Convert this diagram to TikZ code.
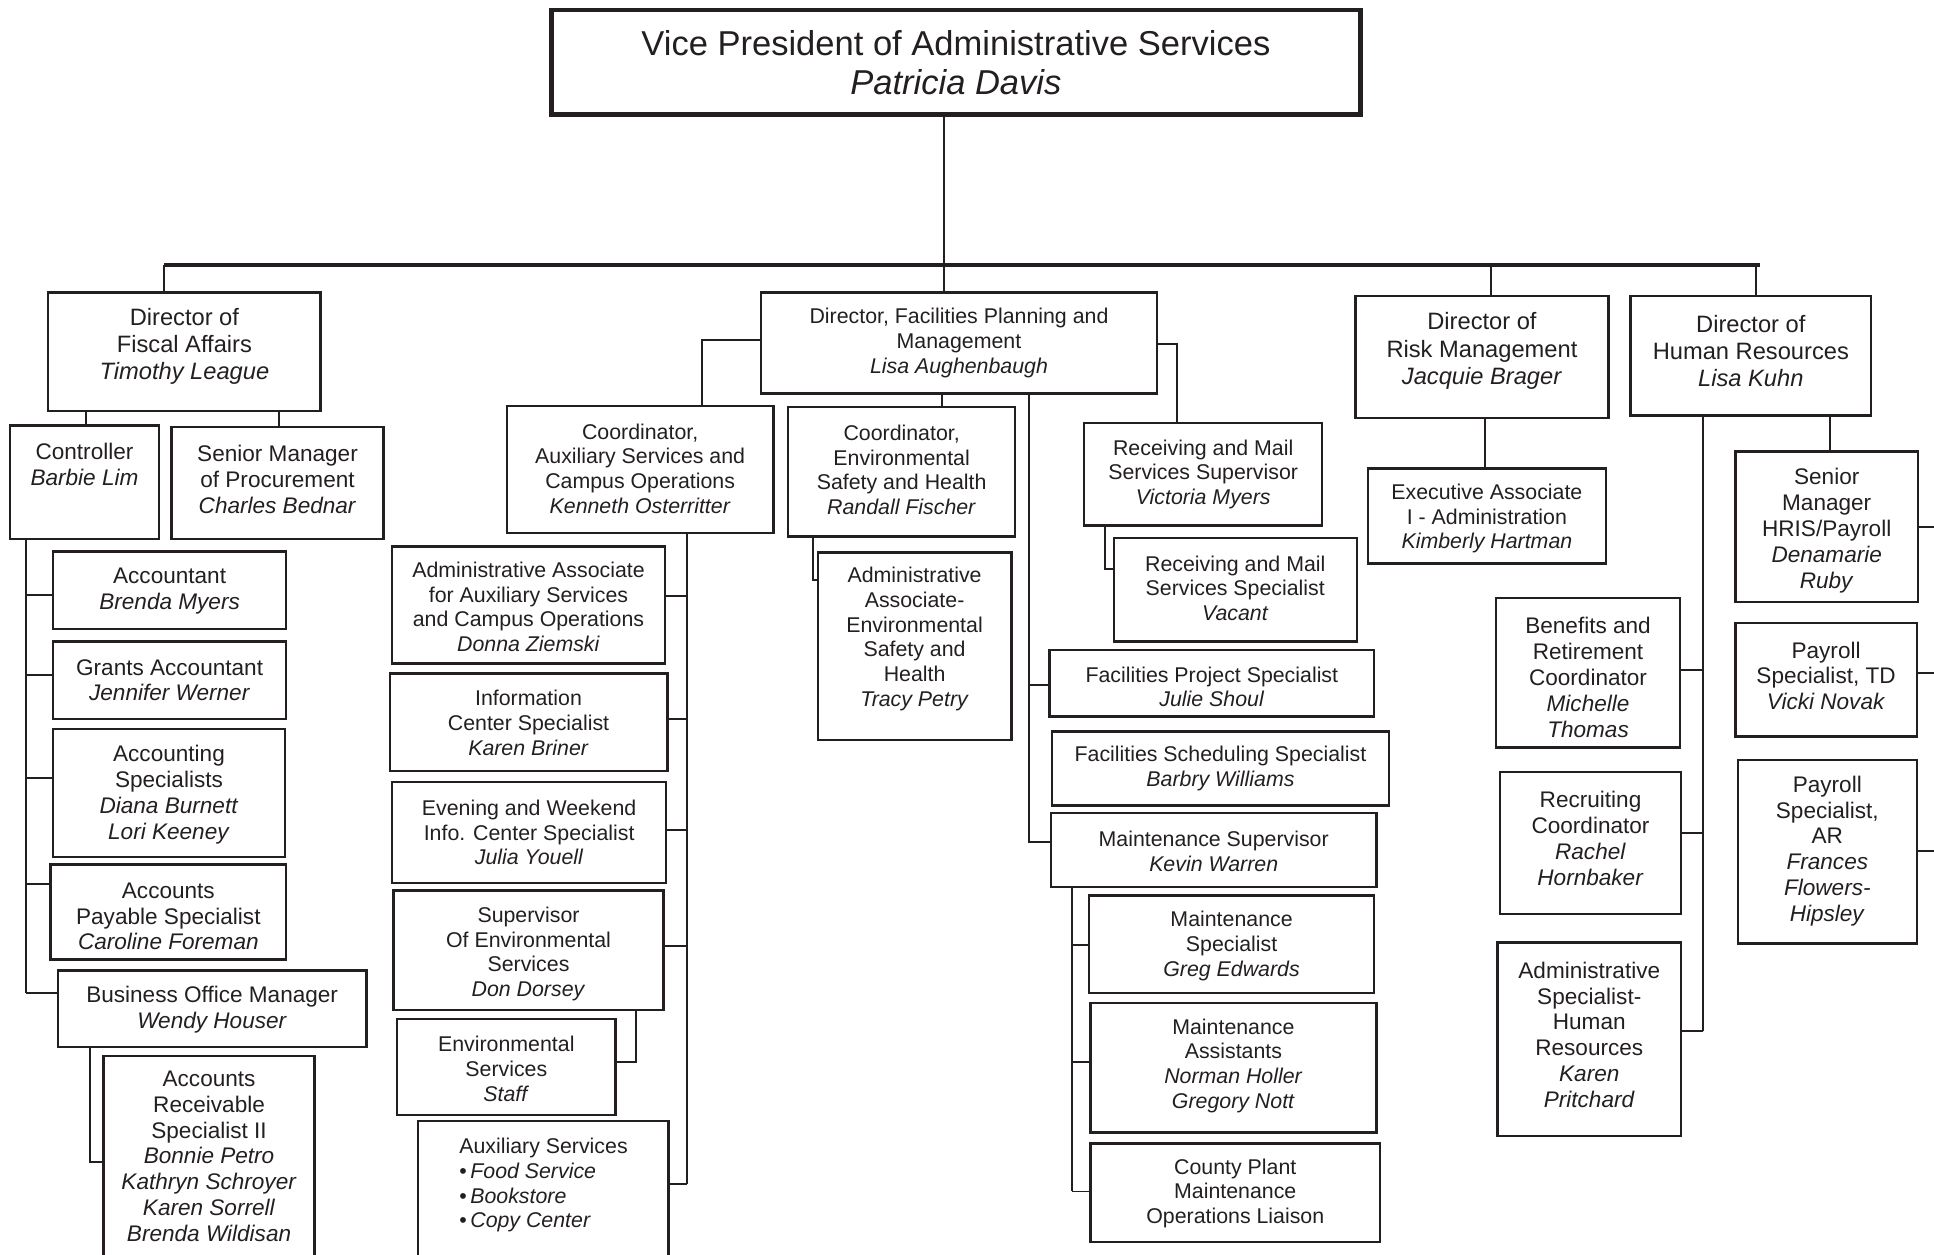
\documentclass[tikz,border=0pt]{standalone}
\usepackage{fontspec}
\setmainfont{Liberation Sans}
\usepackage{xcolor}
\usetikzlibrary {fit, calc}
\definecolor{ink}{RGB}{35,31,32}
\tikzset{
    box/.style={draw=ink, line width=1pt, inner sep=0pt},
    topbox/.style={draw=ink, line width=1.8pt, inner sep=0pt},
    link/.style={draw=ink, line width=0.8pt},
    bar/.style={draw=ink, line width=1.5pt},
    fs/.style={text=ink, align=center, inner sep=0pt, yshift=-1pt, font=\fontsize{8.65}{10}\selectfont},
    fm/.style={text=ink, align=center, inner sep=0pt, yshift=-1pt, font=\fontsize{9.15}{10.5}\selectfont},
    fl/.style={text=ink, align=center, inner sep=0pt, yshift=-1pt, font=\fontsize{9.6}{11}\selectfont},
    ftop/.style={text=ink, align=center, inner sep=0pt, font=\fontsize{14}{16}\selectfont}
}

\begin{document}
\begin{tikzpicture}[x=0.5pt, y=-0.5pt]
    \useasboundingbox (0,0) rectangle (1568,1017);
    % vice president
    \node[topbox, fit={(447,8) (1103,93)}] (vp) {};
    \node[ftop] (vp-t) at (775,51) {Vice President of Administrative Services\\\textit{Patricia Davis}};
    % fiscal affairs
    \node[box, fit={(39,237) (260,333)}] (fisc) {};
    \node[fl] (fisc-t) at (149.5,279) {Director of\\Fiscal Affairs\\\textit{Timothy League}};
    \node[box, fit={(8,345) (129,437)}] (ctrl) {};
    \node[fm] (ctrl-t) at (68.5,374.5) {Controller\\\textit{Barbie Lim}};
    \node[box, fit={(139,346) (311,437)}] (proc) {};
    \node[fm] (proc-t) at (225,386.5) {Senior Manager\\of Procurement\\\textit{Charles Bednar}};
    \node[box, fit={(43,447) (232,510)}] (acct) {};
    \node[fm] (acct-t) at (137.5,477) {Accountant\\\textit{Brenda Myers}};
    \node[box, fit={(43,520) (232,583)}] (grant) {};
    \node[fm] (grant-t) at (137.5,549.5) {Grants Accountant\\\textit{Jennifer Werner}};
    \node[box, fit={(43,591) (231,695)}] (acsp) {};
    \node[fm] (acsp-t) at (137,642.5) {Accounting\\Specialists\\\textit{Diana Burnett}\\\textit{Lori Keeney}};
    \node[box, fit={(41,701) (232,778)}] (pay) {};
    \node[fm] (pay-t) at (136.5,741) {Accounts\\Payable Specialist\\\textit{Caroline Foreman}};
    \node[box, fit={(47,787) (297,849)}] (bom) {};
    \node[fm] (bom-t) at (172,816.5) {Business Office Manager\\\textit{Wendy Houser}};
    \node[box, fit={(84,856) (255,1024)}] (recv) {};
    \node[fm] (recv-t) at (169.5,935.5) {Accounts\\Receivable\\Specialist II\\\textit{Bonnie Petro}\\\textit{Kathryn Schroyer}\\\textit{Karen Sorrell}\\\textit{Brenda Wildisan}};
    % facilities
    \node[box, fit={(617,237) (938,319)}] (fac) {};
    \node[fs] (fac-t) at (777.5,276) {Director, Facilities Planning and\\Management\\\textit{Lisa Aughenbaugh}};
    \node[box, fit={(411,329) (627,432)}] (caux) {};
    \node[fs] (caux-t) at (519,378) {Coordinator,\\Auxiliary Services and\\Campus Operations\\\textit{Kenneth Osterritter}};
    \node[box, fit={(318,443) (539,538)}] (aaux) {};
    \node[fs] (aaux-t) at (428.5,490) {Administrative Associate\\for Auxiliary Services\\and Campus Operations\\\textit{Donna Ziemski}};
    \node[box, fit={(316,546) (541,625)}] (info) {};
    \node[fs] (info-t) at (428.5,584) {Information\\Center Specialist\\\textit{Karen Briner}};
    \node[box, fit={(318,634) (540,716)}] (eve) {};
    \node[fs] (eve-t) at (429,673) {Evening and Weekend\\Info. Center Specialist\\\textit{Julia Youell}};
    \node[box, fit={(319,722) (538,819)}] (senv) {};
    \node[fs] (senv-t) at (428.5,771.5) {Supervisor\\Of Environmental\\Services\\\textit{Don Dorsey}};
    \node[box, fit={(322,826) (499,904)}] (estaff) {};
    \node[fs] (estaff-t) at (410.5,864.5) {Environmental\\Services\\\textit{Staff}};
    \node[box, fit={(339,909) (542,1024)}] (asvc) {};
    \node[fs, align=left, anchor=west] (asvc-t) at (372,959) {Auxiliary Services\\{\textbullet}\,\textit{Food Service}\\{\textbullet}\,\textit{Bookstore}\\{\textbullet}\,\textit{Copy Center}};
    \node[box, fit={(639,330) (823,435)}] (cenv) {};
    \node[fs] (cenv-t) at (731,379) {Coordinator,\\Environmental\\Safety and Health\\\textit{Randall Fischer}};
    \node[box, fit={(663,448) (820,600)}] (aenv) {};
    \node[fs] (aenv-t) at (741.5,516) {Administrative\\Associate-\\Environmental\\Safety and\\Health\\\textit{Tracy Petry}};
    \node[box, fit={(879,343) (1072,426)}] (rsup) {};
    \node[fs] (rsup-t) at (975.5,382.5) {Receiving and Mail\\Services Supervisor\\\textit{Victoria Myers}};
    \node[box, fit={(903,436) (1100,520)}] (rspec) {};
    \node[fs] (rspec-t) at (1001.5,475) {Receiving and Mail\\Services Specialist\\\textit{Vacant}};
    \node[box, fit={(851,527) (1114,581)}] (fps) {};
    \node[fs] (fps-t) at (982.5,555) {Facilities Project Specialist\\\textit{Julie Shoul}};
    \node[box, fit={(853,593) (1126,653)}] (fss) {};
    \node[fs] (fss-t) at (989.5,621) {Facilities Scheduling Specialist\\\textit{Barbry Williams}};
    \node[box, fit={(852,659) (1116,719)}] (msup) {};
    \node[fs] (msup-t) at (984,688) {Maintenance Supervisor\\\textit{Kevin Warren}};
    \node[box, fit={(883,726) (1114,805)}] (mspec) {};
    \node[fs] (mspec-t) at (998.5,765) {Maintenance\\Specialist\\\textit{Greg Edwards}};
    \node[box, fit={(884,813) (1116,918)}] (mass) {};
    \node[fs] (mass-t) at (1000,862) {Maintenance\\Assistants\\\textit{Norman Holler}\\\textit{Gregory Nott}};
    \node[box, fit={(884,927) (1119,1007)}] (cplant) {};
    \node[fs] (cplant-t) at (1001.5,965.5) {County Plant\\Maintenance\\Operations Liaison};
    % risk management
    \node[box, fit={(1099,240) (1304,339)}] (risk) {};
    \node[fl] (risk-t) at (1201.5,282.5) {Director of\\Risk Management\\\textit{Jacquie Brager}};
    \node[box, fit={(1109,380) (1302,457)}] (exec) {};
    \node[fs] (exec-t) at (1205.5,418.5) {Executive Associate\\I - Administration\\\textit{Kimberly Hartman}};
    % human resources
    \node[box, fit={(1322,240) (1517,337)}] (hr) {};
    \node[fl] (hr-t) at (1419.5,282.5) {Director of\\Human Resources\\\textit{Lisa Kuhn}};
    \node[box, fit={(1213,485) (1362,606)}] (ben) {};
    \node[fm] (ben-t) at (1287.5,547) {Benefits and\\Retirement\\Coordinator\\\textit{Michelle}\\\textit{Thomas}};
    \node[box, fit={(1216,626) (1363,741)}] (recr) {};
    \node[fm] (recr-t) at (1289.5,677.5) {Recruiting\\Coordinator\\\textit{Rachel}\\\textit{Hornbaker}};
    \node[box, fit={(1214,764) (1363,921)}] (ahr) {};
    \node[fm] (ahr-t) at (1288.5,837) {Administrative\\Specialist-\\Human\\Resources\\\textit{Karen}\\\textit{Pritchard}};
    \node[box, fit={(1407,366) (1555,488)}] (hris) {};
    \node[fm] (hris-t) at (1481,428) {Senior\\Manager\\HRIS/Payroll\\\textit{Denamarie}\\\textit{Ruby}};
    \node[box, fit={(1407,505) (1554,597)}] (ptd) {};
    \node[fm] (ptd-t) at (1480.5,546) {Payroll\\Specialist, TD\\\textit{Vicki Novak}};
    \node[box, fit={(1409,616) (1554,765)}] (par) {};
    \node[fm] (par-t) at (1481.5,688) {Payroll\\Specialist,\\AR\\\textit{Frances}\\\textit{Flowers-}\\\textit{Hipsley}};

    % top level bar
    \coordinate (barL) at (133,215);
    \coordinate (barR) at (1427,215);
    \draw[bar] (barL) -- (barR);
    \coordinate (vpj) at (765,215);
    \draw[link] (vp.south -| vpj) -- (fac.north -| vpj);
    \draw[link] (barL) -- (fisc.north -| barL);
    \coordinate (riskj) at (1209,215);
    \draw[link] (riskj) -- (risk.north -| riskj);
    \coordinate (hrj) at (1424,215);
    \draw[link] (hrj) -- (hr.north -| hrj);
    % fiscal lines
    \coordinate (ctrlj) at (70,0);
    \draw[link] (fisc.south -| ctrlj) -- (ctrl.north -| ctrlj);
    \coordinate (procj) at (226,0);
    \draw[link] (fisc.south -| procj) -- (proc.north -| procj);
    \coordinate (csp) at (21,805);
    \draw[link] (ctrl.south -| csp) -- (csp);
    \foreach \b/\y in {acct/482, grant/547, acsp/631, pay/717, bom/805} {
        \coordinate (j) at (21,\y);
        \draw[link] (j) -- (j -| \b.west);
    }
    \coordinate (bomj) at (73,942);
    \draw[link] (bom.south -| bomj) -- (bomj) -- (bomj -| recv.west);
    % facilities lines
    \coordinate (auxj) at (569,276);
    \draw[link] (fac.west |- auxj) -- (auxj) -- (auxj |- caux.north);
    \coordinate (asp) at (557,960);
    \draw[link] (caux.south -| asp) -- (asp);
    \foreach \b/\y in {aaux/483, info/583, eve/673, senv/767, asvc/960} {
        \coordinate (j) at (557,\y);
        \draw[link] (j) -- (j -| \b.east);
    }
    \coordinate (senvj) at (516,861);
    \draw[link] (senv.south -| senvj) -- (senvj) -- (senvj -| estaff.east);
    \coordinate (cenvj) at (764,0);
    \draw[link] (fac.south -| cenvj) -- (cenv.north -| cenvj);
    \coordinate (aenvj) at (659,470);
    \draw[link] (cenv.south -| aenvj) -- (aenvj) -- (aenvj -| aenv.west);
    \coordinate (fsp) at (834,683);
    \draw[link] (fac.south -| fsp) -- (fsp) -- (fsp -| msup.west);
    \coordinate (fpsj) at (834,555);
    \draw[link] (fpsj) -- (fpsj -| fps.west);
    \coordinate (msp) at (869,966);
    \draw[link] (msup.south -| msp) -- (msp);
    \foreach \b/\y in {mspec/766, mass/861, cplant/966} {
        \coordinate (j) at (869,\y);
        \draw[link] (j) -- (j -| \b.west);
    }
    \coordinate (rj) at (954,279);
    \draw[link] (fac.east |- rj) -- (rj) -- (rj |- rsup.north);
    \coordinate (rsj) at (896,461);
    \draw[link] (rsup.south -| rsj) -- (rsj) -- (rsj -| rspec.west);
    % risk and hr lines
    \coordinate (execj) at (1204,0);
    \draw[link] (risk.south -| execj) -- (exec.north -| execj);
    \coordinate (hsp) at (1381,836);
    \draw[link] (hr.south -| hsp) -- (hsp);
    \foreach \b/\y in {ben/543, recr/675, ahr/836} {
        \coordinate (j) at (1381,\y);
        \draw[link] (j) -- (j -| \b.east);
    }
    \coordinate (hrisj) at (1484,0);
    \draw[link] (hr.south -| hrisj) -- (hris.north -| hrisj);
    \foreach \b/\y in {hris/427, ptd/546, par/690} {
        \coordinate (j) at (1568,\y);
        \draw[link] (j -| \b.east) -- (j);
    }
\end{tikzpicture}
\end{document}
